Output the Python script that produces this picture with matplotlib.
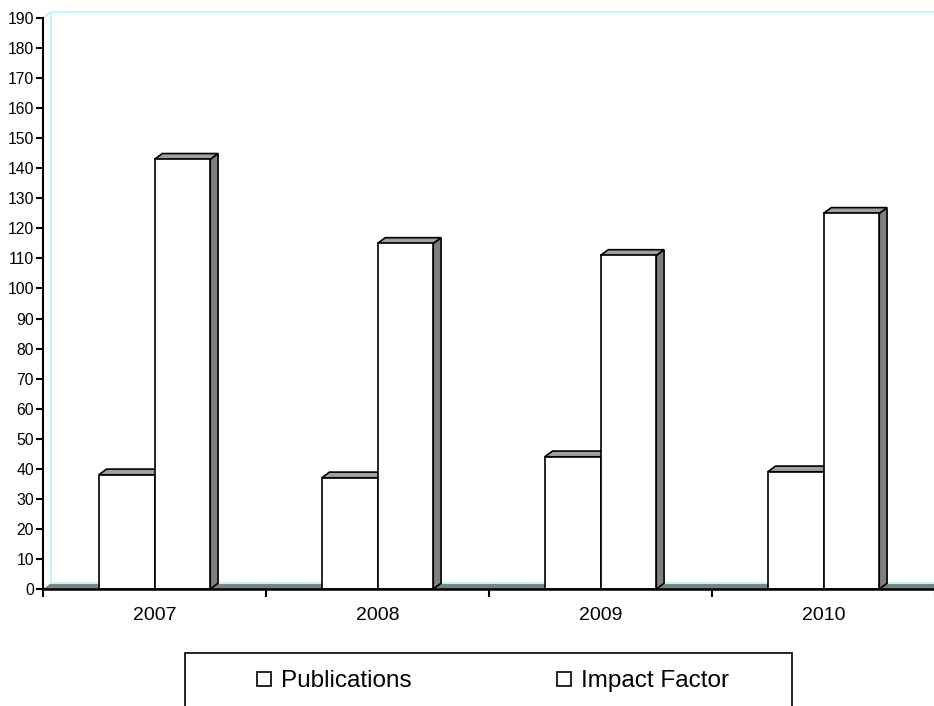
import matplotlib.pyplot as plt
from matplotlib.patches import Polygon, Rectangle
from matplotlib.lines import Line2D
from matplotlib.ticker import FixedLocator

plt.rcParams['font.family'] = ['Liberation Sans', 'DejaVu Sans']

years = ["2007", "2008", "2009", "2010"]
publications = [38, 37, 44, 39]
impact_factor = [143, 115, 111, 125]
series_labels = ["Publications", "Impact Factor"]

bar_w = 0.25
dx, dy = 0.035, 1.9      # fake 3d depth, in data units
wall_color = "#bff6f6"
side_color = "#808080"

fig = plt.figure(figsize=(9.34, 7.06), dpi=100)
ax = fig.add_axes([43 / 934, 117 / 706, 892 / 934, 571 / 706])
ax.set_xlim(0, len(years))
ax.set_ylim(0, 190)

# back wall and floor
n = len(years)
ax.add_patch(Polygon([(0, 0), (dx, dy), (n + dx, dy), (n, 0)], closed=True,
                     facecolor=side_color, edgecolor="none", zorder=1, clip_on=False))
ax.plot([dx, n + dx], [dy, dy], color=wall_color, lw=1.5, zorder=1.5, clip_on=False)
ax.plot([dx, dx, n + dx], [dy, 190 + dy, 190 + dy], color=wall_color, lw=1.5,
        zorder=1, clip_on=False)
ax.plot([0, dx], [190, 190 + dy], color=wall_color, lw=1.5, zorder=1, clip_on=False)


def draw_bars(offset, values, z):
    xs = [i + 0.5 + offset for i in range(n)]
    ax.bar(xs, values, width=bar_w, color="white", edgecolor="black",
           linewidth=1.2, zorder=z + 0.2)
    for x, v in zip(xs, values):
        x0, x1 = x - bar_w / 2, x + bar_w / 2
        ax.add_patch(Polygon([(x1, 0), (x1 + dx, dy), (x1 + dx, v + dy), (x1, v)],
                             closed=True, facecolor=side_color, edgecolor="black",
                             lw=1.2, zorder=z, clip_on=False))
        ax.add_patch(Polygon([(x0, v), (x0 + dx, v + dy), (x1 + dx, v + dy), (x1, v)],
                             closed=True, facecolor="#a0a0a0", edgecolor="black",
                             lw=1.2, zorder=z + 0.1, clip_on=False))


draw_bars(-0.125, publications, 3)
draw_bars(0.125, impact_factor, 4)

# axes styling
for s in ["top", "right"]:
    ax.spines[s].set_visible(False)
ax.spines["left"].set_linewidth(1.5)
ax.spines["bottom"].set_linewidth(1.8)
ax.spines["bottom"].set_zorder(6)
ax.set_yticks(range(0, 191, 10))
ax.tick_params(axis="y", direction="out", length=5, width=1.5, pad=1.5, labelsize=11.3)
ax.xaxis.set_major_locator(FixedLocator(range(0, n + 1)))
ax.xaxis.set_minor_locator(FixedLocator([i + 0.5 for i in range(n)]))
ax.xaxis.set_major_formatter(plt.NullFormatter())
ax.set_xticklabels(years, minor=True)
ax.tick_params(axis="x", which="major", direction="out", length=6, width=1.5)
ax.tick_params(axis="x", which="minor", length=0, pad=13, labelsize=14)

# legend with a box that runs off the bottom
fig.patches.append(Rectangle((185 / 934, -0.05), (792 - 185) / 934, 0.05 + 53 / 706,
                             transform=fig.transFigure, fill=False,
                             edgecolor="black", lw=1.2))
handles = [Line2D([], [], marker="s", linestyle="none", markersize=10,
                  markerfacecolor="white", markeredgecolor="black",
                  markeredgewidth=1.2) for _ in series_labels]
fig.legend(handles, series_labels, loc="center left",
           bbox_to_anchor=(252 / 934, 25 / 706), ncol=2, frameon=False,
           fontsize=17.5, handlelength=1.0, handletextpad=0.2,
           columnspacing=5.75, borderpad=0, borderaxespad=0)

fig.savefig("out.png", dpi=100)
